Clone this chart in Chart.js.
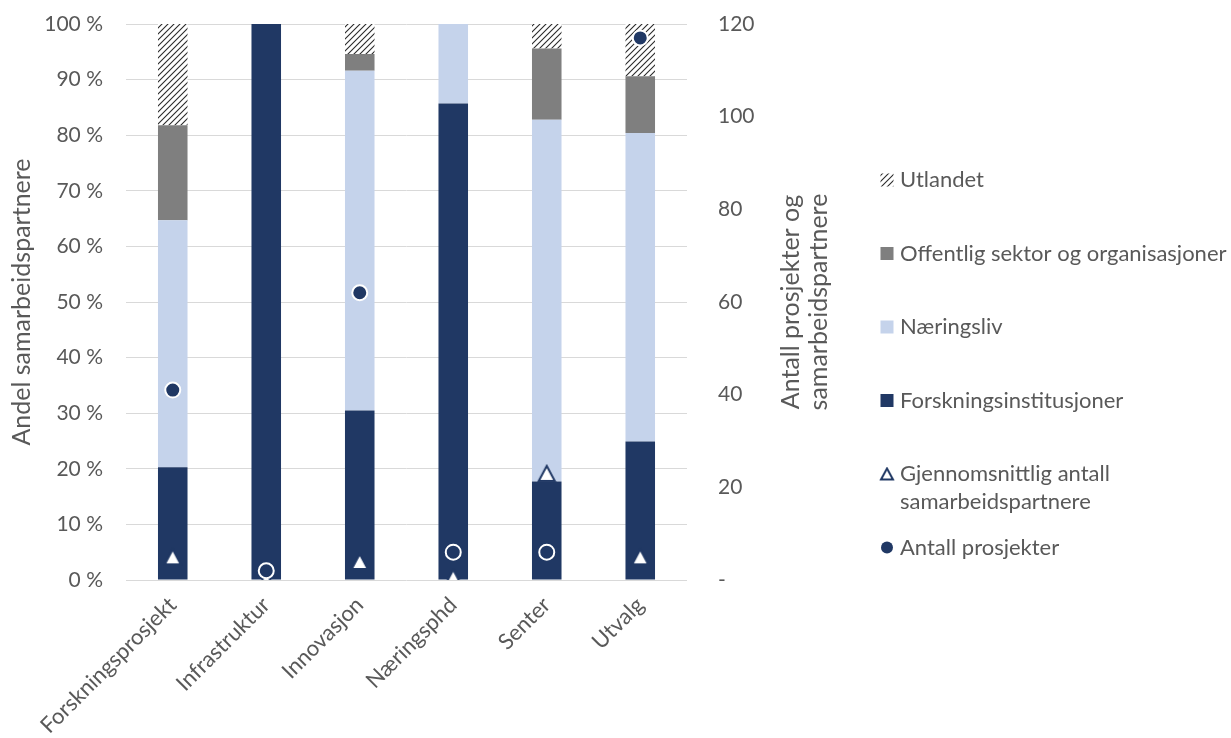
<!DOCTYPE html>
<html lang="no">
<head>
<meta charset="utf-8">
<title>Samarbeidspartnere per virkemiddel</title>
<script src="https://cdn.jsdelivr.net/npm/chart.js@4.4.1/dist/chart.umd.min.js"></script>
<style>
  html, body { margin: 0; padding: 0; background: #fff; }
  #wrap { position: relative; width: 1231px; height: 738px; }
</style>
</head>
<body>
<div id="wrap"><canvas id="partnerChart"></canvas></div>
<script>
// Virkemidler langs x-aksen
const kategorier = ['Forskningsprosjekt', 'Infrastruktur', 'Innovasjon', 'Næringsphd', 'Senter', 'Utvalg'];

// Andel samarbeidspartnere (prosent, venstre akse)
const forskningsinstitusjoner = [20.3, 100, 30.5, 85.7, 17.7, 24.9];
const naeringsliv             = [44.4, 0, 61.1, 14.3, 65.1, 55.5];
const offentligSektor         = [17.1, 0, 3.0, 0, 12.8, 10.2];
const utlandet                = [18.2, 0, 5.4, 0, 4.4, 9.4];

// Antall (høyre akse)
const antallProsjekter        = [41, 2, 62, 6, 6, 117];
const snittSamarbeidspartnere = [5, 0, 4, 0.6, 23, 5];

// Aksetekster
const venstreTittel = 'Andel samarbeidspartnere';
const hoyreTittel   = ['Antall prosjekter og', 'samarbeidspartnere'];

const MORKEBLA = '#203864';
const LYSEBLA  = '#C5D3EB';
const GRA      = '#7F7F7F';
const TEKST    = '#595959';
const FONT     = 'Lato, "Noto Sans", sans-serif';

const canvas = document.getElementById('partnerChart');
const ctx = canvas.getContext('2d');

// Skravur for "Utlandet"
function lagSkravur() {
    const c = document.createElement('canvas');
    c.width = 6; c.height = 6;
    const g = c.getContext('2d');
    g.fillStyle = '#fff';
    g.fillRect(0, 0, 6, 6);
    g.strokeStyle = '#2b2b2b';
    g.lineWidth = 1.1;
    g.beginPath();
    g.moveTo(0, 6); g.lineTo(6, 0);
    g.moveTo(-1, 1); g.lineTo(1, -1);
    g.moveTo(5, 7); g.lineTo(7, 5);
    g.stroke();
    return ctx.createPattern(c, 'repeat');
}

// Hul trekant som punktstil (sentrert i bildet)
function lagTrekant(w, h) {
    const c = document.createElement('canvas');
    c.width = w + 4; c.height = h + 4;
    const g = c.getContext('2d');
    g.beginPath();
    g.moveTo(c.width / 2, 2);
    g.lineTo(w + 2, h + 2);
    g.lineTo(2, h + 2);
    g.closePath();
    g.fillStyle = '#fff';
    g.fill();
    g.strokeStyle = MORKEBLA;
    g.lineWidth = 2;
    g.stroke();
    return c;
}

const skravur = lagSkravur();
const trekant = lagTrekant(16, 15);
const trekantLiten = lagTrekant(12, 11);

// Tegner høyre aksetittel (leses nedenfra og opp) og forklaringen
const ekstraTegning = {
    id: 'ekstraTegning',
    afterDraw(chart) {
        const c = chart.ctx;
        const area = chart.chartArea;
        const midtY = (area.top + area.bottom) / 2;

        c.save();
        c.fillStyle = TEKST;
        c.font = '25px ' + FONT;
        c.textAlign = 'center';
        c.textBaseline = 'middle';
        hoyreTittel.forEach((linje, i) => {
            c.save();
            c.translate(area.right + 104 + i * 28, midtY);
            c.rotate(-Math.PI / 2);
            c.fillText(linje, 0, 0);
            c.restore();
        });
        c.restore();

        // Forklaring
        const rekkefolge = [
            { ds: 5, type: 'rute' },
            { ds: 4, type: 'rute' },
            { ds: 3, type: 'rute' },
            { ds: 2, type: 'rute' },
            { ds: 1, type: 'trekant' },
            { ds: 0, type: 'sirkel' }
        ];
        const markX = area.right + 200;
        const tekstX = area.right + 213;
        const maksBredde = chart.width - tekstX - 1;

        c.save();
        c.font = '22px ' + FONT;
        c.textBaseline = 'middle';
        c.textAlign = 'left';
        rekkefolge.forEach((item, i) => {
            const ds = chart.data.datasets[item.ds];
            const y = 180 + i * 73.5;

            if (item.type === 'rute') {
                c.fillStyle = ds.backgroundColor;
                c.fillRect(markX - 6.5, y - 6.5, 13, 13);
            } else if (item.type === 'trekant') {
                c.drawImage(trekantLiten, markX - trekantLiten.width / 2, y - trekantLiten.height / 2);
            } else {
                c.fillStyle = MORKEBLA;
                c.beginPath();
                c.arc(markX, y, 6, 0, Math.PI * 2);
                c.fill();
            }

            // enkel ordbryting
            const ord = ds.label.split(' ');
            const linjer = [];
            let linje = '';
            ord.forEach(o => {
                const test = linje ? linje + ' ' + o : o;
                if (c.measureText(test).width > maksBredde && linje) {
                    linjer.push(linje);
                    linje = o;
                } else {
                    linje = test;
                }
            });
            linjer.push(linje);

            c.fillStyle = TEKST;
            linjer.forEach((l, k) => c.fillText(l, tekstX, y + k * 28));
        });
        c.restore();
    }
};

// Fast bredde på y-aksene, og ingen ekstra luft over/under plottet
function fastBredde(bredde) {
    return s => {
        s.width = bredde;
        s.paddingTop = 12;
        s.paddingBottom = 12;
    };
}

new Chart(ctx, {
    data: {
        labels: kategorier,
        datasets: [
            {
                type: 'line',
                label: 'Antall prosjekter',
                data: antallProsjekter,
                yAxisID: 'y1',
                showLine: false,
                pointStyle: 'circle',
                pointRadius: 7.5,
                pointHoverRadius: 7.5,
                pointBackgroundColor: MORKEBLA,
                pointBorderColor: '#fff',
                pointBorderWidth: 2,
                order: 0
            },
            {
                type: 'line',
                label: 'Gjennomsnittlig antall samarbeidspartnere',
                data: snittSamarbeidspartnere,
                yAxisID: 'y1',
                showLine: false,
                pointStyle: trekant,
                order: 1
            },
            {
                type: 'bar',
                label: 'Forskningsinstitusjoner',
                data: forskningsinstitusjoner,
                backgroundColor: MORKEBLA,
                order: 2
            },
            {
                type: 'bar',
                label: 'Næringsliv',
                data: naeringsliv,
                backgroundColor: LYSEBLA,
                order: 2
            },
            {
                type: 'bar',
                label: 'Offentlig sektor og organisasjoner',
                data: offentligSektor,
                backgroundColor: GRA,
                order: 2
            },
            {
                type: 'bar',
                label: 'Utlandet',
                data: utlandet,
                backgroundColor: skravur,
                order: 2
            }
        ]
    },
    options: {
        responsive: true,
        maintainAspectRatio: false,
        animation: false,
        datasets: {
            bar: { categoryPercentage: 1, barPercentage: 0.316 }
        },
        layout: { padding: { top: 24, right: 394, bottom: 0, left: 0 } },
        plugins: {
            legend: { display: false },
            tooltip: { enabled: false }
        },
        scales: {
            x: {
                stacked: true,
                grid: { display: false },
                border: { display: false },
                ticks: {
                    color: TEKST,
                    font: { family: FONT, size: 22 },
                    maxRotation: 45,
                    minRotation: 45,
                    autoSkip: false,
                    padding: 4
                },
                afterFit: s => { s.height = 158; }
            },
            y: {
                stacked: true,
                position: 'left',
                min: 0,
                max: 100,
                grid: { color: '#D9D9D9', lineWidth: 1, drawTicks: false },
                border: { display: false },
                ticks: {
                    stepSize: 10,
                    color: TEKST,
                    font: { family: FONT, size: 21 },
                    padding: 23,
                    callback: v => v + ' %'
                },
                title: {
                    display: true,
                    text: venstreTittel,
                    color: TEKST,
                    font: { family: FONT, size: 25 },
                    padding: { top: 7, bottom: 0 }
                },
                afterFit: fastBredde(126)
            },
            y1: {
                position: 'right',
                min: 0,
                max: 120,
                grid: { display: false, drawTicks: false },
                border: { display: false },
                ticks: {
                    stepSize: 20,
                    color: TEKST,
                    font: { family: FONT, size: 21 },
                    padding: 31,
                    callback: v => v === 0 ? '-' : v
                },
                afterFit: fastBredde(150)
            }
        }
    },
    plugins: [ekstraTegning]
});
</script>
</body>
</html>
